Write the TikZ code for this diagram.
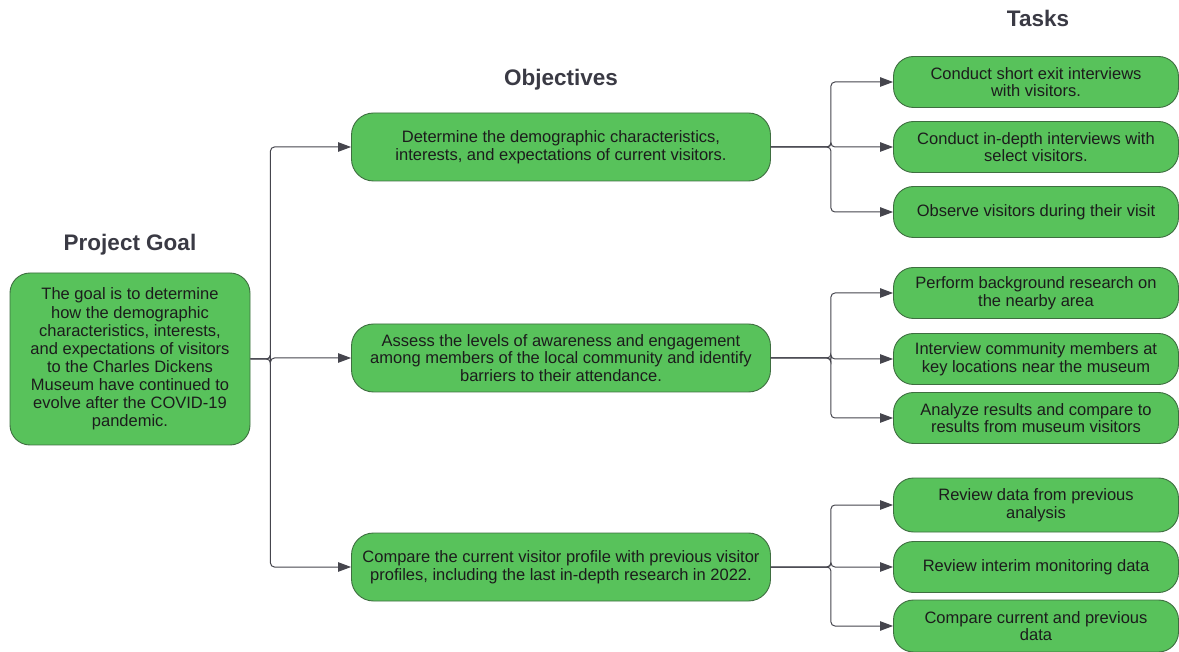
\documentclass[tikz,border=0pt]{standalone}
\usepackage{fontspec}
\setmainfont{Liberation Sans}
\usepackage{xcolor}
\usepackage{tikz}
\usetikzlibrary{arrows.meta}

\definecolor{boxgreen}{HTML}{58C25B}
\definecolor{boxedge}{HTML}{3E6E40}
\definecolor{linegray}{HTML}{45454D}
\definecolor{titlegray}{HTML}{3A3A44}
\definecolor{textdark}{HTML}{1C1C1C}

\begin{document}
\begin{tikzpicture}[x=1pt,y=-1pt]
            \tikzset{Box/.style={%
                    shape=rectangle,%
                    draw=boxedge,%
                    fill=boxgreen,%
                    line width=0.9pt,%
                    text=textdark,%
                    align=center,%
                    inner sep=2pt,%
                    font=\fontsize{16.5}{17.5}\selectfont,%
                },
                Goal/.style={Box,rounded corners=20pt,minimum width=240pt,minimum height=172pt,font=\fontsize{16.5}{18.1}\selectfont},%
                Objective/.style={Box,rounded corners=22pt,minimum width=419pt,minimum height=68pt},%
                Task/.style={Box,rounded corners=20pt,minimum width=285pt,minimum height=51pt},%
                Heading/.style={text=titlegray,font=\fontsize{22.5}{26}\selectfont\bfseries},%
                Link/.style={draw=linegray,line width=1pt,rounded corners=4pt,-{Triangle[length=13pt,width=9.5pt]}},%
            }

                \useasboundingbox (0,0) rectangle (1179,652);

                \node[Heading] (hgoal) at (130,245) {Project Goal};
                \node[Heading] (hobj) at (561,80) {Objectives};
                \node[Heading] (htask) at (1038,18) {Tasks};

                \node[Goal] (goal) at (130,359) {The goal is to determine\\how the demographic\\characteristics, interests,\\and expectations of visitors\\to the Charles Dickens\\Museum have continued to\\evolve after the COVID-19\\pandemic.};

                \node[Objective] (o1) at (561,147) {Determine the demographic characteristics,\\interests, and expectations of current visitors.};
                \node[Objective] (o2) at (561,358) {Assess the levels of awareness and engagement\\among members of the local community and identify\\barriers to their attendance.};
                \node[Objective] (o3) at (561,567) {Compare the current visitor profile with previous visitor\\profiles, including the last in-depth research in 2022.};

                \node[Task] (t11) at (1036,82) {Conduct short exit interviews\\with visitors.};
                \node[Task] (t12) at (1036,147) {Conduct in-depth interviews with\\select visitors.};
                \node[Task] (t13) at (1036,212) {Observe visitors during their visit};

                \node[Task] (t21) at (1036,293) {Perform background research on\\the nearby area};
                \node[Task] (t22) at (1036,359) {Interview community members at\\key locations near the museum};
                \node[Task] (t23) at (1036,418) {Analyze results and compare to\\results from museum visitors};

                \node[Task,minimum height=54pt] (t31) at (1036,505) {Review data from previous\\analysis};
                \node[Task] (t32) at (1036,567) {Review interim monitoring data};
                \node[Task,minimum height=52pt] (t33) at (1036,626) {Compare current and previous\\data};

                % goal to objectives
                \foreach \o in {o1,o2,o3}
                    \draw[Link] (goal.east) -- ++(20,0) |- (\o);

                % objectives to tasks
                \foreach \o/\t in {o1/t11,o1/t12,o1/t13,o2/t21,o2/t22,o2/t23,o3/t31,o3/t32,o3/t33}
                    \draw[Link] (\o.east) -- ++(60,0) |- (\t);
        \end{tikzpicture}
\end{document}
